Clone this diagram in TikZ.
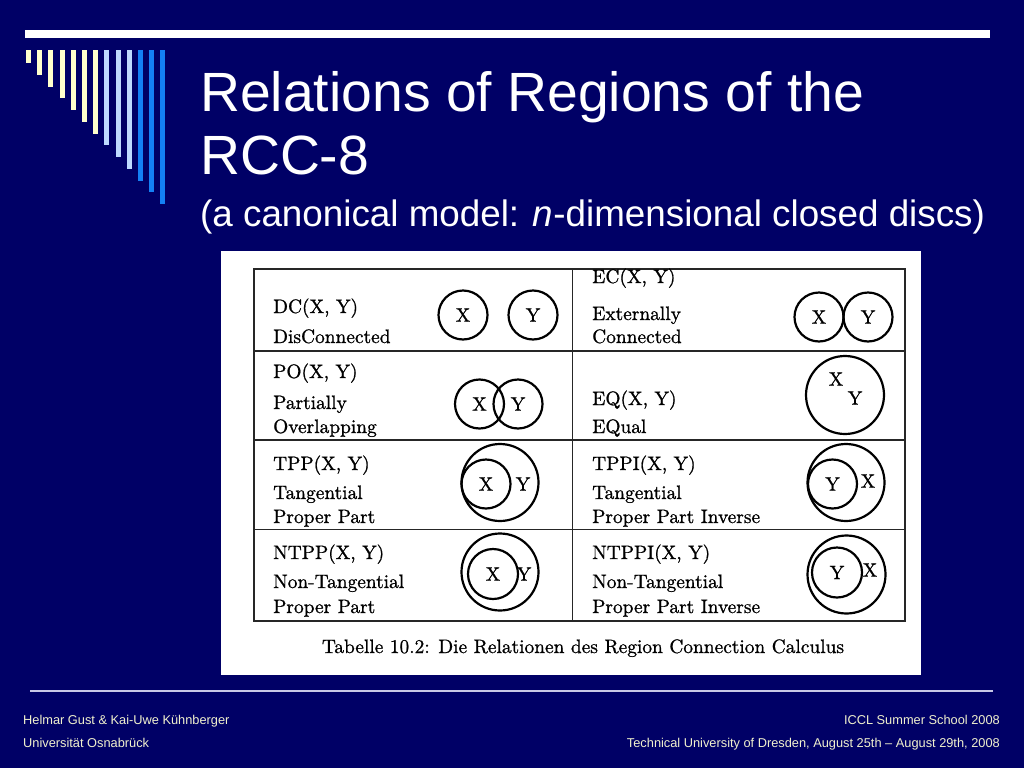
\documentclass[tikz,border=0pt]{standalone}
\usepackage{fontspec}
\newfontfamily\slidefont{Liberation Sans}
\newfontfamily\scanfont{lmroman10-regular}[Extension=.otf,FakeBold=0.9]
\usetikzlibrary{positioning}

\definecolor{slidebg}{RGB}{0,0,102}
\definecolor{barcream}{RGB}{255,255,204}
\definecolor{barpale}{RGB}{190,218,255}
\definecolor{barblue}{RGB}{20,128,245}
\definecolor{footline}{RGB}{200,200,230}
\definecolor{foottext}{RGB}{240,240,205}

\begin{document}
\begin{tikzpicture}[x=1pt,y=-1pt,
    every node/.style={inner sep=0pt},
    title/.style={anchor=base west,text=white,font=\slidefont\fontsize{55.3}{63}\selectfont},
    subtitle/.style={anchor=base west,text=white,font=\slidefont\fontsize{36.8}{43}\selectfont},
    cell/.style={anchor=base west,font=\scanfont\fontsize{19.4}{23}\selectfont},
    mark label/.style={font=\scanfont\fontsize{19.4}{23}\selectfont},
    disc/.style={circle,draw,line width=2.2pt,minimum size=#1,font=\scanfont\fontsize{19.4}{23}\selectfont},
    disc/.default=49pt,
    foot/.style={text=foottext,font=\slidefont\fontsize{12.8}{15}\selectfont}]

    % slide background
    \fill[slidebg] (0,0) rectangle (1024,768);
    \useasboundingbox (0,0) rectangle (1024,768);

    % top decoration
    \fill[white] (25,30) rectangle (990,38);
    \foreach \i/\col in {0/barcream,1/barcream,2/barcream,3/barcream,4/barcream,5/barcream,6/barcream,
                         7/barpale,8/barpale,9/barpale,10/barblue,11/barblue,12/barblue}
      \fill[\col] (26+11.2*\i,50) rectangle (31+11.2*\i,63+11.75*\i);

    % titles
    \node[title]    (title1) at (200,111) {Relations of Regions of the};
    \node[title]    (title2) at (200,174) {RCC-8};
    \node[subtitle] (sub)    at (200,226) {(a canonical model: \textit{n}-dimensional closed discs)};

    % scanned table
    \fill[white] (221,251) rectangle (921,675);
    \draw[black!85,line width=1.3pt] (254,269) rectangle (905,621);
    \draw[black!85,line width=1.3pt] (254,351) -- (905,351)
                                     (254,440) -- (905,440)
                                     (254,529.5) -- (905,529.5)
                                     (572.5,269) -- (572.5,621);

    % left column
    \node[cell] (dc)    at (273,313) {DC(X, Y)};
    \node[cell] (dcl)   at (273,343) {DisConnected};
    \node[cell] (po)    at (273,378) {PO(X, Y)};
    \node[cell] (pol1)  at (273,409) {Partially};
    \node[cell] (pol2)  at (273,433) {Overlapping};
    \node[cell] (tpp)   at (273,470) {TPP(X, Y)};
    \node[cell] (tppl1) at (273,499) {Tangential};
    \node[cell] (tppl2) at (273,523) {Proper Part};
    \node[cell] (ntpp)  at (273,559) {NTPP(X, Y)};
    \node[cell] (ntppl1) at (273,588) {Non-Tangential};
    \node[cell] (ntppl2) at (273,613) {Proper Part};

    % right column
    \node[cell] (ec)     at (592,283) {EC(X, Y)};
    \node[cell] (ecl1)   at (592,320) {Externally};
    \node[cell] (ecl2)   at (592,343) {Connected};
    \node[cell] (eq)     at (592,405) {EQ(X, Y)};
    \node[cell] (eql)    at (592,433) {EQual};
    \node[cell] (tppi)   at (592,470) {TPPI(X, Y)};
    \node[cell] (tppil1) at (592,499) {Tangential};
    \node[cell] (tppil2) at (592,523) {Proper Part Inverse};
    \node[cell] (ntppi)  at (592,559) {NTPPI(X, Y)};
    \node[cell] (ntppil1) at (592,588) {Non-Tangential};
    \node[cell] (ntppil2) at (592,613) {Proper Part Inverse};

    % discs
    \node[disc] (dcx) at (463,315) {X};
    \node[disc] (dcy) at (533,315) {Y};
    \node[disc] (pox) at (479.5,404) {X};
    \node[disc] (poy) at (518,404) {Y};
    \node[disc] (ecx) at (819,317) {X};
    \node[disc] (ecy) at (868,317) {Y};

    \node[disc=78pt] (eqxy) at (845,395) {};
    \node[mark label] (eqxl) at (836,379) {X};
    \node[mark label] (eqyl) at (855,398) {Y};

    \node[disc=77pt] (tppy) at (500,482.5) {};
    \node[disc] (tppx) at (486,484) {X};
    \node[mark label] (tppyl) at (523,484) {Y};

    \node[disc=77pt] (ntppy) at (500,572) {};
    \node[disc=50pt] (ntppx) at (493,574) {X};
    \node[mark label] (ntppyl) at (524,574) {Y};

    \node[disc=77pt] (tppix) at (846,482.5) {};
    \node[disc] (tppiy) at (832.5,484) {Y};
    \node[mark label] (tppixl) at (868,481) {X};

    \node[disc=78pt] (ntppix) at (846.5,574.5) {};
    \node[disc=50pt] (ntppiy) at (837,572.5) {Y};
    \node[mark label] (ntppixl) at (870,570) {X};

    \node[cell,anchor=base] (caption) at (583,653)
      {Tabelle 10.2: Die Relationen des Region Connection Calculus};

    % footer
    \draw[footline,line width=1.5pt] (30,691) -- (993,691);
    \node[foot,anchor=base west] (authors) at (23,724) {Helmar Gust \& Kai-Uwe Kühnberger};
    \node[foot,anchor=base west] (uni)     at (23,747) {Universität Osnabrück};
    \node[foot,anchor=base east] (school)  at (1000,724) {ICCL Summer School 2008};
    \node[foot,anchor=base east] (place)   at (1000,747) {Technical University of Dresden, August 25th – August 29th, 2008};
\end{tikzpicture}
\end{document}
